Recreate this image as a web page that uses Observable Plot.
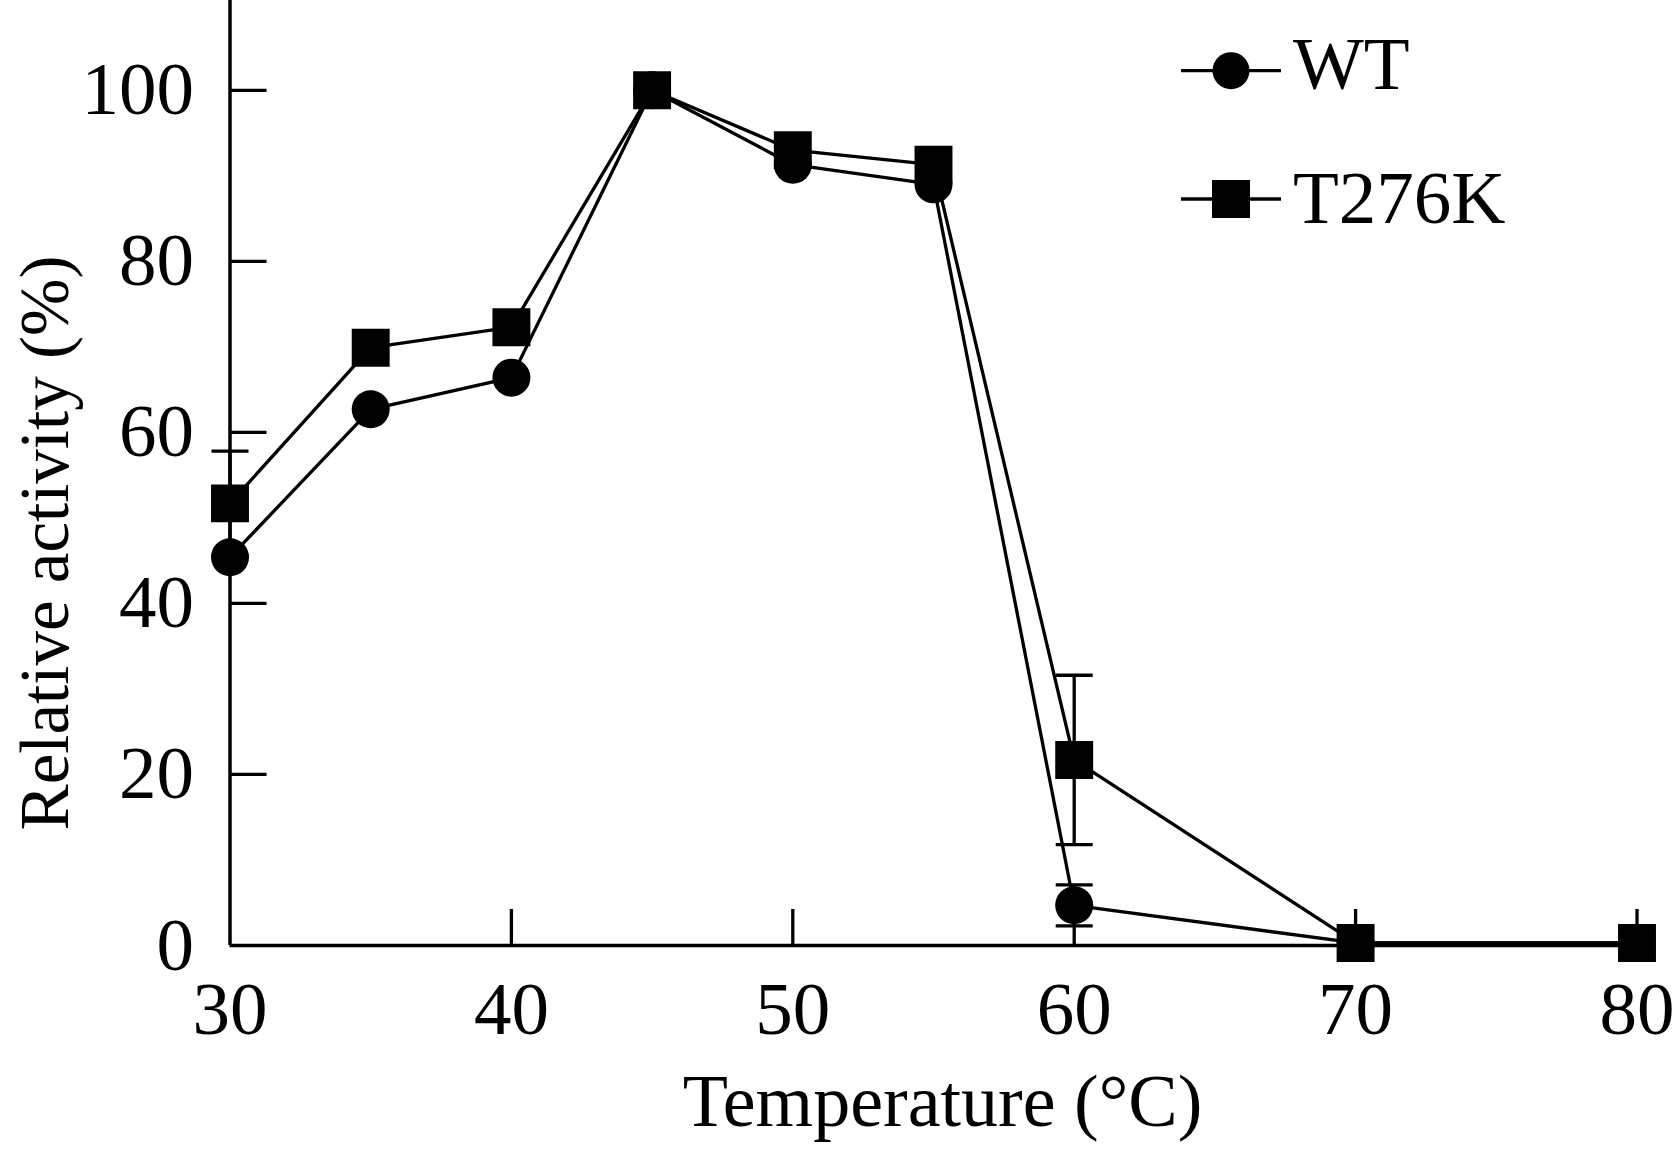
<!DOCTYPE html>
<html>
<head>
<meta charset="utf-8">
<script src="https://cdn.jsdelivr.net/npm/d3@7"></script>
<script src="https://cdn.jsdelivr.net/npm/@observablehq/plot@0.6"></script>
<style>
  html, body { margin: 0; padding: 0; background: white; }
  #wrap { position: relative; width: 1676px; height: 1149px; }
  #legend { position: absolute; left: 0; top: 0; pointer-events: none; }
</style>
</head>
<body>
<div id="wrap"></div>
<script>
// ---- data ----
const temperatures = [30, 35, 40, 45, 50, 55, 60, 70, 80];
const seriesNames = ["WT", "T276K"];
const wtValues = [45.4, 62.7, 66.4, 100, 91.3, 89.0, 4.7, 0.3, 0.3];
const t276kValues = [51.7, 69.9, 72.3, 100, 93.0, 91.3, 21.7, 0.3, 0.3];
const wtErrors = [0, 0, 0, 0, 0, 0, 2.4, 0, 0];
const t276kErrors = [6.1, 0, 0, 0, 0, 0, 9.9, 0, 0];
const xTickValues = [30, 40, 50, 60, 70, 80];
const yTickValues = [0, 20, 40, 60, 80, 100];
const xLabel = "Temperature (°C)";
const yLabel = "Relative activity (%)";

// ---- tables ----
const rows = [];
const errRows = [];
[[seriesNames[0], wtValues, wtErrors], [seriesNames[1], t276kValues, t276kErrors]].forEach(([name, vals, errs]) => {
  temperatures.forEach((t, i) => {
    rows.push({series: name, temp: t, value: vals[i]});
    if (errs[i] > 0) errRows.push({series: name, temp: t, lo: vals[i] - errs[i], hi: vals[i] + errs[i]});
  });
});
const capRows = errRows.flatMap(d => [{temp: d.temp, v: d.lo}, {temp: d.temp, v: d.hi}]);

const capSymbol = {
  draw(context, size) {
    const w = Math.sqrt(size / Math.PI);
    context.moveTo(-w, 0);
    context.lineTo(w, 0);
  }
};

const FONT = "'Liberation Serif', 'Times New Roman', serif";

const chart = Plot.plot({
  width: 1676,
  height: 1149,
  marginLeft: 229.5,
  marginRight: 39.5,
  marginTop: 0,
  marginBottom: 204,
  x: {domain: [30, 80]},
  y: {domain: [0, 110.5]},
  style: {fontFamily: FONT, fontSize: "75px", color: "black", background: "white", overflow: "visible"},
  marks: [
    // tick labels
    Plot.axisX({ticks: xTickValues, tickSize: 0, tickPadding: 35, label: null, fontSize: 75}),
    Plot.axisY({ticks: yTickValues, tickSize: 0, tickPadding: 36, label: null, fontSize: 75}),
    // inward ticks
    Plot.axisX({ticks: xTickValues.slice(1), tickSize: -36, tickFormat: () => "", label: null, strokeWidth: 3.3}),
    Plot.axisY({ticks: yTickValues.slice(1), tickSize: -37, tickFormat: () => "", label: null, strokeWidth: 3.3}),
    // axis lines
    Plot.ruleX([30], {stroke: "black", strokeWidth: 3.5}),
    Plot.ruleY([0], {stroke: "black", strokeWidth: 3.5}),
    // error bars
    Plot.ruleX(errRows, {x: "temp", y1: "lo", y2: "hi", stroke: "black", strokeWidth: 3.3}),
    Plot.dot(capRows, {x: "temp", y: "v", symbol: capSymbol, r: 18.5, stroke: "black", strokeWidth: 3.3, fill: "none"}),
    // lines
    Plot.line(rows, {x: "temp", y: "value", z: "series", stroke: "black", strokeWidth: 3.3}),
    // markers
    Plot.dot(rows.filter(d => d.series === "WT"), {x: "temp", y: "value", symbol: "circle", r: 19, fill: "black"}),
    Plot.dot(rows.filter(d => d.series === "T276K"), {x: "temp", y: "value", symbol: "square", r: 21.4, fill: "black"}),
    // axis titles
    Plot.text([xLabel], {text: d => d, frameAnchor: "bottom", textAnchor: "middle", lineAnchor: "middle", dy: 157, dx: 9, fontSize: 74, fill: "black"}),
    Plot.text([yLabel], {text: d => d, frameAnchor: "left", textAnchor: "middle", lineAnchor: "middle", rotate: -90, dx: -184, dy: 70, fontSize: 69, fill: "black"})
  ]
});
document.getElementById("wrap").appendChild(chart);

// ---- legend (overlay) ----
const legend = d3.select("#wrap").append("svg")
  .attr("id", "legend").attr("width", 1676).attr("height", 300);
const items = [
  {name: seriesNames[0], shape: "circle", cy: 70.7, baseline: 89},
  {name: seriesNames[1], shape: "square", cy: 199, baseline: 223}
];
items.forEach(it => {
  legend.append("line").attr("x1", 1181).attr("x2", 1281).attr("y1", it.cy).attr("y2", it.cy)
    .attr("stroke", "black").attr("stroke-width", 3.3);
  if (it.shape === "circle") {
    legend.append("circle").attr("cx", 1231).attr("cy", it.cy).attr("r", 18.5).attr("fill", "black");
  } else {
    legend.append("rect").attr("x", 1231 - 19).attr("y", it.cy - 19).attr("width", 38).attr("height", 38).attr("fill", "black");
  }
  legend.append("text").attr("x", 1293).attr("y", it.baseline).text(it.name)
    .attr("font-family", FONT).attr("font-size", 75).attr("fill", "black");
});
</script>
</body>
</html>
